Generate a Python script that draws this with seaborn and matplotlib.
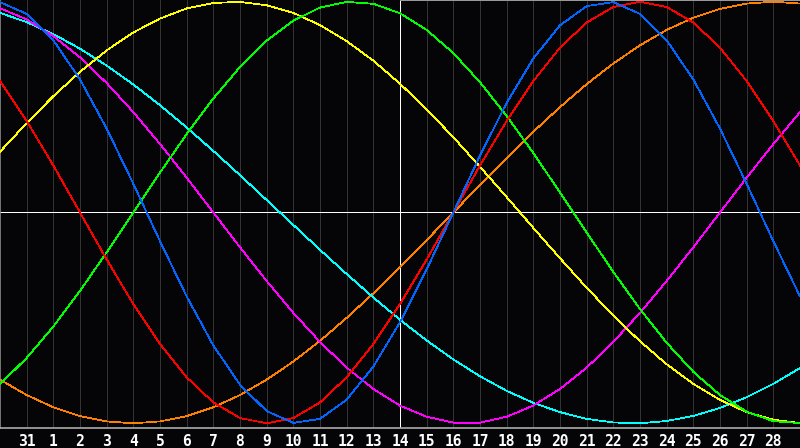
import matplotlib
matplotlib.use("Agg")
import matplotlib.pyplot as plt
import pandas as pd
import seaborn as sns

# day index 0..30 across the chart, labels shown for 1..29
days = list(range(31))
day_labels = ["31"] + [str(i) for i in range(1, 29)]
today = 15

# cycle values, one per day (-1 .. 1)
physical = [0.998, 0.942, 0.817, 0.631, 0.398, 0.136, -0.136, -0.398, -0.631, -0.817,
            -0.942, -0.998, -0.979, -0.888, -0.731, -0.520, -0.270, 0.0, 0.270, 0.520,
            0.731, 0.888, 0.979, 0.998, 0.942, 0.817, 0.631, 0.398, 0.136, -0.136, -0.398]
emotional = [0.624, 0.434, 0.223, 0.0, -0.223, -0.434, -0.624, -0.782, -0.901, -0.975,
             -1.0, -0.975, -0.901, -0.782, -0.624, -0.434, -0.223, 0.0, 0.223, 0.434,
             0.624, 0.782, 0.901, 0.975, 1.0, 0.975, 0.901, 0.782, 0.624, 0.434, 0.223]
intellectual = [-0.815, -0.690, -0.541, -0.372, -0.189, 0.0, 0.189, 0.372, 0.541, 0.690,
                0.815, 0.910, 0.972, 0.999, 0.990, 0.945, 0.866, 0.756, 0.618, 0.458,
                0.282, 0.095, -0.095, -0.282, -0.458, -0.618, -0.756, -0.866, -0.945, -0.990, -0.999]
intuitive = [0.969, 0.916, 0.837, 0.736, 0.614, 0.476, 0.325, 0.165, 0.0, -0.165,
             -0.325, -0.476, -0.614, -0.736, -0.837, -0.916, -0.969, -0.997, -0.997, -0.969,
             -0.916, -0.837, -0.736, -0.614, -0.476, -0.325, -0.165, 0.0, 0.165, 0.325, 0.476]
aesthetic = [0.288, 0.424, 0.552, 0.667, 0.769, 0.854, 0.920, 0.968, 0.994, 0.999,
             0.983, 0.947, 0.889, 0.813, 0.720, 0.611, 0.489, 0.357, 0.217, 0.073,
             -0.073, -0.217, -0.357, -0.489, -0.611, -0.720, -0.813, -0.889, -0.947, -0.983, -0.999]
awareness = [-0.793, -0.866, -0.924, -0.966, -0.991, -1.0, -0.991, -0.966, -0.924, -0.866,
             -0.793, -0.707, -0.609, -0.5, -0.383, -0.259, -0.131, 0.0, 0.131, 0.259,
             0.383, 0.5, 0.609, 0.707, 0.793, 0.866, 0.924, 0.966, 0.991, 1.0, 0.991]
spiritual = [0.947, 0.903, 0.846, 0.777, 0.697, 0.607, 0.509, 0.403, 0.292, 0.177,
             0.059, -0.059, -0.177, -0.292, -0.403, -0.509, -0.607, -0.697, -0.777, -0.846,
             -0.903, -0.947, -0.979, -0.996, -1.0, -0.989, -0.965, -0.927, -0.876, -0.813, -0.738]

series = {
    "awareness": awareness,
    "spiritual": spiritual,
    "intuitive": intuitive,
    "aesthetic": aesthetic,
    "intellectual": intellectual,
    "emotional": emotional,
    "physical": physical,
}
colors = {
    "awareness": "#ff8000",
    "spiritual": "#00ffff",
    "intuitive": "#ff00ff",
    "aesthetic": "#ffff00",
    "intellectual": "#00ff00",
    "emotional": "#ff0000",
    "physical": "#0066ff",
}

rows = []
for name, vals in series.items():
    for d, v in zip(days, vals):
        rows.append({"day": d, "value": v, "cycle": name})
df = pd.DataFrame(rows)

bg = "#050508"
fig = plt.figure(figsize=(8, 4.48), dpi=100, facecolor=bg)
ax = fig.add_axes([0, 20 / 448, 1, 428 / 448])
ax.set_facecolor(bg)

sns.lineplot(data=df, x="day", y="value", hue="cycle", palette=colors,
             hue_order=list(series.keys()), ax=ax, legend=False, zorder=3)
for line in ax.get_lines():
    line.set_linewidth(0.55)
    line.set_antialiased(False)

# day grid
for d in range(1, 30):
    ax.axvline(d, color="#333333", lw=0.5, antialiased=False, zorder=0)

ax.axhline(0, color="white", lw=0.6, antialiased=False, zorder=2)
ax.axvline(today, color="white", lw=0.6, antialiased=False, zorder=2)
ax.axhline(1.008, xmin=0.5, xmax=1, color="#999999", lw=0.6, antialiased=False, zorder=4)

ax.set_xlim(0, 30)
ax.set_ylim(-1.0223, 1.008)
ax.set_xticks(range(1, 30))
ax.set_xticklabels(day_labels, color="white", fontsize=10.5, fontweight="bold",
                   family="DejaVu Sans Mono")
ax.tick_params(axis="x", length=0, pad=4)
ax.set_yticks([])
ax.set_xlabel("")
ax.set_ylabel("")
for side in ["top", "right"]:
    ax.spines[side].set_visible(False)
ax.spines["left"].set_color("#888888")
ax.spines["bottom"].set_color("#aaaaaa")
ax.spines["left"].set_linewidth(1.2)
ax.spines["bottom"].set_linewidth(1.2)

fig.savefig("out.png", dpi=100, facecolor=bg)
